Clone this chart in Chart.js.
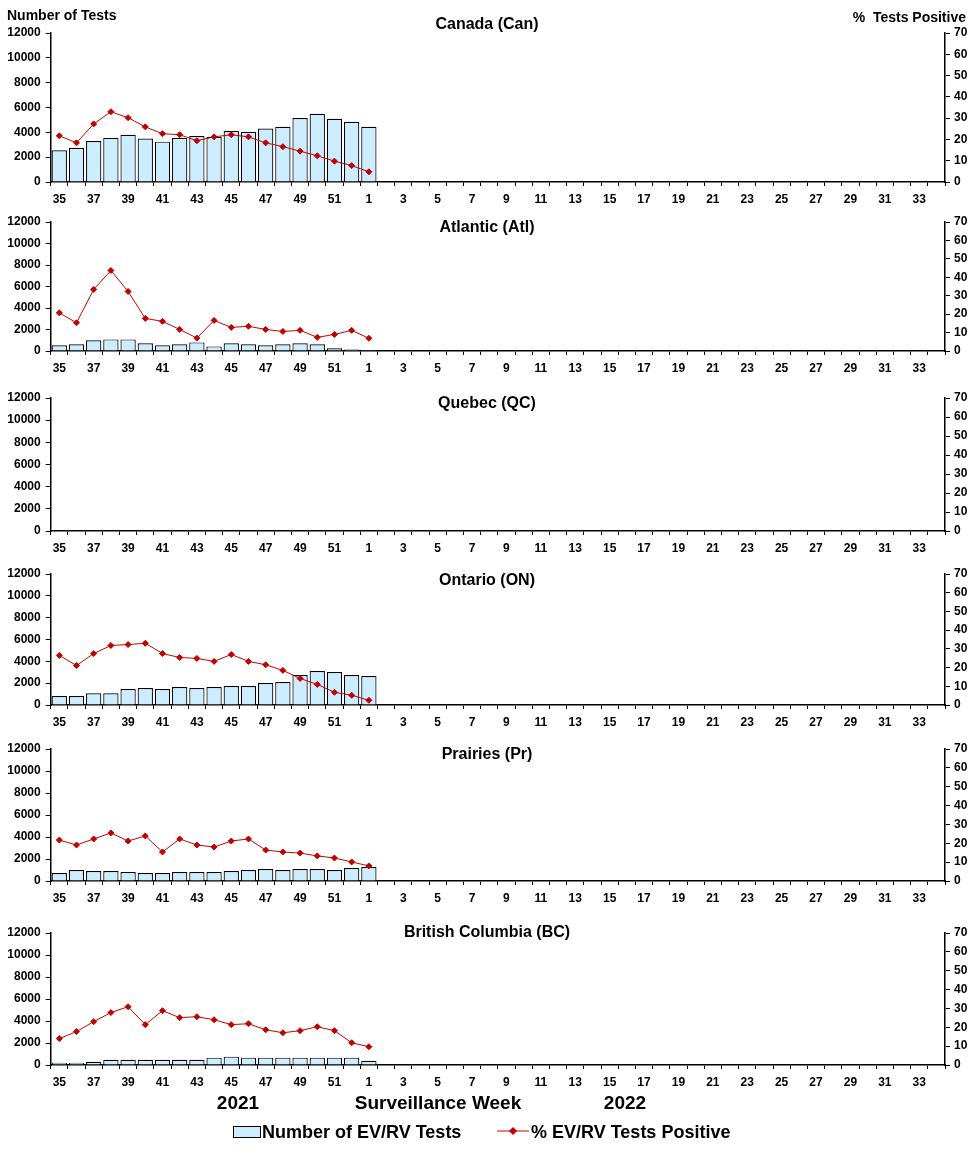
<!DOCTYPE html>
<html>
<head>
<meta charset="utf-8">
<script src="https://cdn.jsdelivr.net/npm/chart.js@4.4.1/dist/chart.umd.min.js"></script>
<style>
  html, body { margin: 0; padding: 0; background: #ffffff; }
  #wrap { position: relative; width: 976px; height: 1152px; overflow: hidden; font-family: "Liberation Sans", Arial, sans-serif; color: #000; }
  #wrap canvas { position: absolute; left: 0; }
  .txt { position: absolute; font-weight: bold; white-space: nowrap; line-height: 1; z-index: 5; }
  .c { transform: translate(-50%, -50%); }
  .l { transform: translate(0, -50%); }
  .r { transform: translate(-100%, -50%); }
</style>
</head>
<body>
<div id="wrap">
  <div class="txt l" style="left:7px; top:15px; font-size:14px;">Number of Tests</div>
  <div class="txt r" style="left:966px; top:17px; font-size:14px;">%&nbsp;&nbsp;Tests Positive</div>
  <div class="txt c" style="left:238px; top:1102px; font-size:19px;">2021</div>
  <div class="txt c" style="left:438px; top:1102px; font-size:19px;">Surveillance Week</div>
  <div class="txt c" style="left:625px; top:1102px; font-size:19px;">2022</div>
  <div style="position:absolute; left:233px; top:1126px; width:26px; height:10px; background:#CCECFF; border:1px solid #000;"></div>
  <div class="txt l" style="left:262px; top:1132px; font-size:18px;">Number of EV/RV Tests</div>
  <svg style="position:absolute; left:496px; top:1124px;" width="34" height="14">
    <line x1="1" y1="7" x2="33" y2="7" stroke="#CC0000" stroke-width="1"/>
    <polygon points="17,3 21,7 17,11 13,7" fill="#C00000"/>
  </svg>
  <div class="txt l" style="left:531px; top:1132px; font-size:18px;">% EV/RV Tests Positive</div>
</div>
<script>
// ---------- DATA ----------
const weeks = ['35','36','37','38','39','40','41','42','43','44','45','46','47','48','49','50','51','52',
  '1','2','3','4','5','6','7','8','9','10','11','12','13','14','15','16','17','18','19','20','21','22',
  '23','24','25','26','27','28','29','30','31','32','33','34'];
const leftTicks = [0, 2000, 4000, 6000, 8000, 10000, 12000];
const rightTicks = [0, 10, 20, 30, 40, 50, 60, 70];
const regionTitles = ['Canada (Can)', 'Atlantic (Atl)', 'Quebec (QC)', 'Ontario (ON)', 'Prairies (Pr)', 'British Columbia (BC)'];

const canTests = [2550,2750,3300,3550,3800,3500,3250,3550,3700,3650,4100,4050,4300,4450,5150,5500,5100,4850,4450];
const canPct   = [21.7,18.4,27.3,33.0,30.2,25.9,22.7,22.2,19.4,21.2,22.2,21.2,18.4,16.6,14.5,12.3,9.8,7.7,4.8];
const atlTests = [530,620,990,1080,1080,710,530,620,800,430,710,620,530,620,710,620,250,150,90];
const atlPct   = [20.7,15.3,33.4,43.7,32.3,17.7,16.1,11.7,7.0,16.6,12.8,13.4,11.7,10.6,11.2,7.4,9.0,11.2,6.9];
const qcTests  = [];
const qcPct    = [];
const onTests  = [820,820,1070,1070,1460,1550,1460,1640,1550,1640,1740,1740,2010,2100,2740,3110,3020,2740,2650];
const onPct    = [26.5,21.1,27.5,31.8,32.3,33.0,27.5,25.4,24.9,23.3,27.0,23.3,21.5,18.5,14.2,11.0,6.8,5.2,2.5];
const prTests  = [730,1000,910,910,820,730,730,820,820,820,910,1000,1090,1000,1090,1090,1000,1180,1270];
const prPct    = [21.7,19.1,22.3,25.5,21.2,23.9,15.4,22.3,19.1,18.0,21.2,22.3,16.4,15.4,14.8,13.3,12.2,10.1,8.0];
const bcTests  = [210,210,300,480,480,480,480,480,480,670,760,670,670,670,670,670,670,670,390];
const bcPct    = [14.0,17.7,23.0,27.8,30.9,21.4,28.8,25.1,25.6,24.0,21.4,21.9,18.7,17.1,18.2,20.3,18.2,11.8,9.7];

const testsSeries = [canTests, atlTests, qcTests, onTests, prTests, bcTests];
const pctSeries   = [canPct, atlPct, qcPct, onPct, prPct, bcPct];

// ---------- LAYOUT ----------
const plotTops    = [33.3, 221.7, 398.3, 573.7, 749.3, 932.7];
const plotBottoms = [182.7, 351, 531, 705, 881.3, 1064.7];
const titleYs     = [25, 227, 404, 580, 755, 932];
const plotLeft = 50.7, plotRight = 945, W = 976;
const padTop = 22, xAxisH = 30;

const panelTitle = {
  id: 'panelTitle',
  afterDraw(chart, args, opts) {
    const ctx = chart.ctx;
    ctx.save();
    ctx.font = 'bold 16px "Liberation Sans", Arial, sans-serif';
    ctx.fillStyle = '#000';
    ctx.textAlign = 'center';
    ctx.textBaseline = 'middle';
    ctx.fillText(opts.text, W / 2 - 1, opts.y);
    ctx.restore();
  }
};

const tickFont = { family: '"Liberation Sans", Arial, sans-serif', size: 12, weight: 'bold' };
const wrap = document.getElementById('wrap');

regionTitles.forEach((title, i) => {
  const top = plotTops[i] - padTop;
  const h = Math.round(plotBottoms[i] - plotTops[i] + padTop + xAxisH);
  const cv = document.createElement('canvas');
  cv.width = W; cv.height = h;
  cv.style.top = top + 'px';
  cv.style.width = W + 'px'; cv.style.height = h + 'px';
  wrap.appendChild(cv);

  new Chart(cv.getContext('2d'), {
    type: 'bar',
    data: {
      labels: weeks,
      datasets: [
        {
          type: 'line',
          label: '% EV/RV Tests Positive',
          data: pctSeries[i],
          yAxisID: 'y1',
          borderColor: '#CC0000',
          borderWidth: 1,
          backgroundColor: '#C00000',
          pointStyle: 'rectRot',
          pointRadius: 3,
          pointBorderWidth: 1,
          pointBorderColor: '#C00000',
          pointBackgroundColor: '#C00000',
          tension: 0,
          order: 0
        },
        {
          type: 'bar',
          label: 'Number of EV/RV Tests',
          data: testsSeries[i],
          yAxisID: 'y',
          backgroundColor: '#CCECFF',
          borderColor: '#000000',
          borderWidth: 1.2,
          barPercentage: 0.89,
          categoryPercentage: 1.0,
          order: 1
        }
      ]
    },
    options: {
      responsive: false,
      animation: false,
      devicePixelRatio: 1,
      layout: { padding: { top: plotTops[i] - top, left: 0, right: 0, bottom: 0 } },
      plugins: {
        legend: { display: false },
        tooltip: { enabled: false },
        title: { display: false },
        panelTitle: { text: title, y: titleYs[i] - top }
      },
      scales: {
        x: {
          offset: true,
          grid: { offset: true, drawOnChartArea: false, color: '#000', tickLength: 4, lineWidth: 1 },
          border: { color: '#000', width: 1.5 },
          ticks: {
            autoSkip: false, maxRotation: 0, minRotation: 0, padding: 6,
            color: '#000', font: tickFont,
            callback: (v, idx) => (idx % 2 === 0 ? weeks[idx] : '')
          },
          afterFit: (s) => { s.height = xAxisH; }
        },
        y: {
          position: 'left',
          min: leftTicks[0], max: leftTicks[leftTicks.length - 1],
          afterBuildTicks: (s) => { s.ticks = leftTicks.map(v => ({ value: v })); },
          grid: { drawOnChartArea: false, color: '#000', tickLength: 5 },
          border: { color: '#000', width: 1.5 },
          ticks: { color: '#000', font: tickFont, padding: 5, callback: (v) => String(v) },
          afterFit: (s) => { s.width = plotLeft; }
        },
        y1: {
          position: 'right',
          min: rightTicks[0], max: rightTicks[rightTicks.length - 1],
          afterBuildTicks: (s) => { s.ticks = rightTicks.map(v => ({ value: v })); },
          grid: { drawOnChartArea: false, color: '#000', tickLength: 5 },
          border: { color: '#000', width: 1.5 },
          ticks: { color: '#000', font: tickFont, padding: 4, callback: (v) => String(v) },
          afterFit: (s) => { s.width = W - plotRight; }
        }
      }
    },
    plugins: [panelTitle]
  });
});
</script>
</body>
</html>
